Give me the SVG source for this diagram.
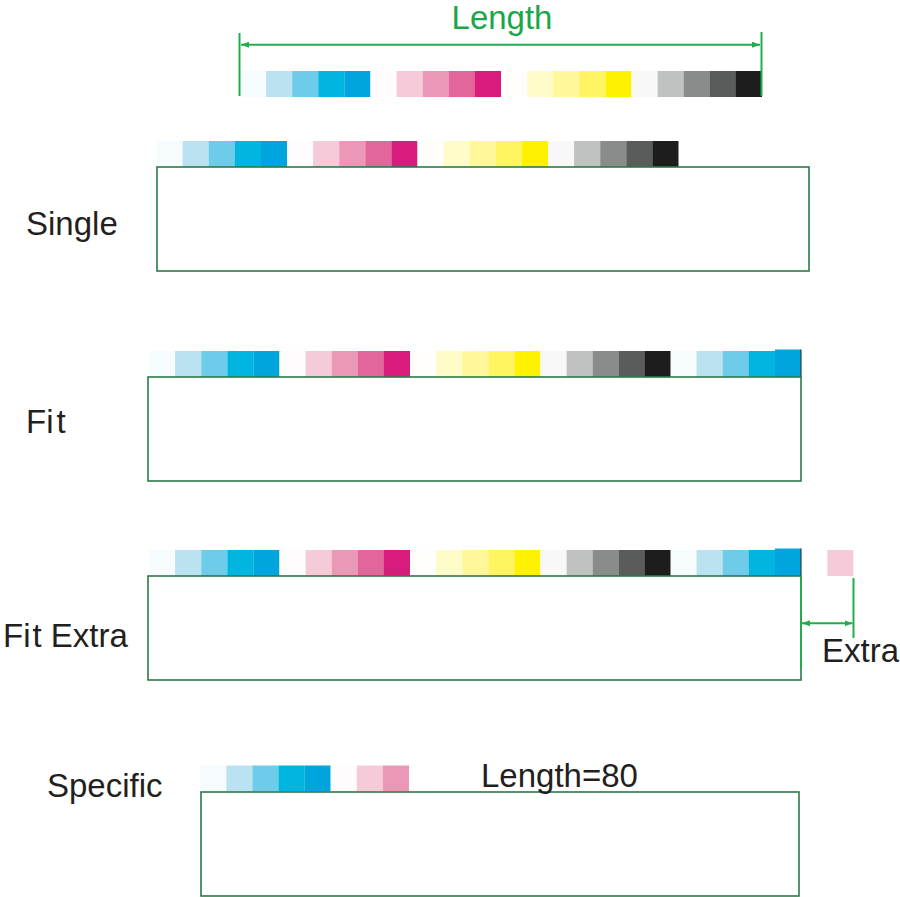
<svg xmlns="http://www.w3.org/2000/svg" xmlns:xlink="http://www.w3.org/1999/xlink" width="900" height="897" viewBox="0 0 900 897">
<style>
  .lbl { font-family: "Liberation Sans", Arial, sans-serif; font-size: 33px; fill: #231f20; }
  .glbl { font-family: "Liberation Sans", Arial, sans-serif; font-size: 33px; fill: #1ba64a; }
  .box { fill: none; stroke: #2c7a48; stroke-width: 1.6; }
  .dim { fill: none; stroke: #22ac4c; stroke-width: 2; }
</style>
<defs>
  <marker id="arr" viewBox="0 0 8 6" refX="8" refY="3" markerWidth="8" markerHeight="6" markerUnits="userSpaceOnUse" orient="auto-start-reverse">
    <path d="M0,0 L8,3 L0,6 z" fill="#22ac4c"/>
  </marker>
  <g id="cyan">
    <rect x="0" y="0" width="26.2" height="26" fill="#f6fbfd"/>
    <rect x="26.1" y="0" width="26.2" height="26" fill="#bae2f1"/>
    <rect x="52.2" y="0" width="26.2" height="26" fill="#6ecbe9"/>
    <rect x="78.3" y="0" width="26.2" height="26" fill="#00b5e0"/>
    <rect x="104.4" y="0" width="26.1" height="26" fill="#00a5dd"/>
  </g>
  <g id="mag">
    <rect x="0" y="0" width="26.2" height="26" fill="#fefcfc"/>
    <rect x="26.1" y="0" width="26.2" height="26" fill="#f5cbd9"/>
    <rect x="52.2" y="0" width="26.2" height="26" fill="#eb97b7"/>
    <rect x="78.3" y="0" width="26.2" height="26" fill="#e3669a"/>
    <rect x="104.4" y="0" width="26.1" height="26" fill="#da1b7e"/>
  </g>
  <g id="yel">
    <rect x="0" y="0" width="26.2" height="26" fill="#fffefa"/>
    <rect x="26.1" y="0" width="26.2" height="26" fill="#fffcc9"/>
    <rect x="52.2" y="0" width="26.2" height="26" fill="#fff799"/>
    <rect x="78.3" y="0" width="26.2" height="26" fill="#fff462"/>
    <rect x="104.4" y="0" width="26.1" height="26" fill="#fff200"/>
  </g>
  <g id="blk">
    <rect x="0" y="0" width="26.2" height="26" fill="#f8f8f8"/>
    <rect x="26.1" y="0" width="26.2" height="26" fill="#c0c1c1"/>
    <rect x="52.2" y="0" width="26.2" height="26" fill="#8a8b8b"/>
    <rect x="78.3" y="0" width="26.2" height="26" fill="#5a5b5b"/>
    <rect x="104.4" y="0" width="26.1" height="26" fill="#1d1d1d"/>
  </g>
  <g id="strip20">
    <use xlink:href="#cyan" x="0"/>
    <use xlink:href="#mag" x="130.5"/>
    <use xlink:href="#yel" x="261"/>
    <use xlink:href="#blk" x="391.5"/>
  </g>
</defs>

<g id="length-ref">
  <use xlink:href="#strip20" x="240" y="71"/>
  <text class="glbl" x="502" y="29" text-anchor="middle">Length</text>
</g>

<g id="single">
  <use xlink:href="#strip20" x="156.5" y="141"/>
  <rect class="box" x="157" y="167" width="652" height="104"/>
  <text class="lbl" x="26" y="235">Single</text>
</g>

<g id="fit">
  <use xlink:href="#strip20" x="149" y="351"/>
  <use xlink:href="#cyan" x="670.5" y="351"/>
  <rect x="775" y="349.5" width="26" height="27.5" fill="#00a5dd"/>
  <line x1="801" y1="349.5" x2="801" y2="377" stroke="#222" stroke-width="1"/>
  <rect class="box" x="148" y="377" width="653" height="104"/>
  <text class="lbl" x="26" y="433">Fi<tspan dx="3">t</tspan></text>
</g>

<g id="fit-extra">
  <use xlink:href="#strip20" x="149" y="550"/>
  <use xlink:href="#cyan" x="670.5" y="550"/>
  <rect x="775" y="548.5" width="26" height="27.5" fill="#00a5dd"/>
  <line x1="801" y1="548.5" x2="801" y2="576" stroke="#222" stroke-width="1"/>
  <rect x="827.3" y="550" width="26" height="26" fill="#f5cbd9"/>
  <rect class="box" x="148" y="576" width="653" height="104"/>
  <text class="lbl" x="3" y="647">Fi<tspan dx="2">t</tspan> Extra</text>
  <text class="lbl" x="822" y="662">Extra</text>
</g>

<g id="specific">
  <use xlink:href="#cyan" x="200.2" y="765.5"/>
  <rect x="330.7" y="765.5" width="26.2" height="26" fill="#fefcfc"/>
  <rect x="356.8" y="765.5" width="26.2" height="26" fill="#f5cbd9"/>
  <rect x="382.9" y="765.5" width="26.1" height="26" fill="#eb97b7"/>
  <rect class="box" x="201" y="792" width="598" height="104"/>
  <text class="lbl" x="47" y="797">Specific</text>
  <text class="lbl" x="481" y="787">Length=80</text>
</g>

<g id="connectors">
  <line class="dim" x1="239.5" y1="33" x2="239.5" y2="96"/>
  <line class="dim" x1="761.5" y1="32" x2="761.5" y2="96"/>
  <line class="dim" x1="241" y1="44.7" x2="760" y2="44.7" marker-start="url(#arr)" marker-end="url(#arr)"/>
  <line class="dim" x1="801" y1="577" x2="801" y2="668"/>
  <line class="dim" x1="853.5" y1="578" x2="853.5" y2="638"/>
  <line class="dim" x1="802" y1="623.3" x2="852.5" y2="623.3" marker-start="url(#arr)" marker-end="url(#arr)"/>
</g>
</svg>
